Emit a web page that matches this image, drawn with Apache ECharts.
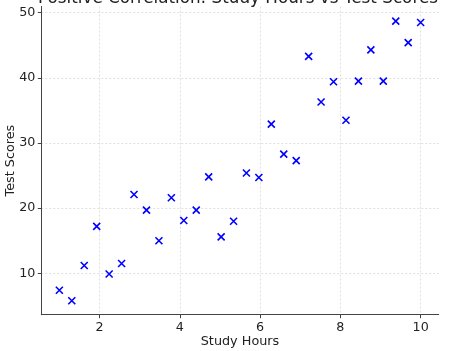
<!DOCTYPE html>
<html>
<head>
<meta charset="utf-8">
<script src="https://cdn.jsdelivr.net/npm/echarts@6/dist/echarts.min.js"></script>
<style>html,body{margin:0;padding:0;background:#fff}#chart{width:449px;height:351px}</style>
</head>
<body>
<div id="chart"></div>
<script>
// study hours (evenly spaced 1..10, 30 points) and scores
var studyHours = [1.00, 1.31, 1.62, 1.93, 2.24, 2.55, 2.86, 3.17, 3.48, 3.79,
                  4.10, 4.41, 4.72, 5.03, 5.34, 5.66, 5.97, 6.28, 6.59, 6.90,
                  7.21, 7.52, 7.83, 8.14, 8.45, 8.76, 9.07, 9.38, 9.69, 10.00];
var testScores = [7.4, 5.8, 11.2, 17.2, 9.9, 11.5, 22.1, 19.7, 15.0, 21.6,
                  18.1, 19.7, 24.8, 15.6, 18.0, 25.4, 24.7, 32.9, 28.3, 27.3,
                  43.3, 36.3, 39.4, 33.5, 39.5, 44.3, 39.5, 48.7, 45.4, 48.5];
var xTicks = [2, 4, 6, 8, 10];
var yTicks = [10, 20, 30, 40, 50];

var points = studyHours.map(function(h, i){ return [h, testScores[i]]; });

var font = 'DejaVu Sans';
var chart = echarts.init(document.getElementById('chart'));
chart.setOption({
  animation: false,
  // title drawn as plain graphic text so it can sit partly above the canvas like the original
  graphic: [{
    type: 'text', x: 238, y: -1.5,
    style: {
      text: 'Positive Correlation: Study Hours vs Test Scores',
      fontFamily: font, fontSize: 16.8, fill: '#222',
      textAlign: 'center', textVerticalAlign: 'middle'
    }
  }],
  grid: { left: 41.3, right: 10.3, top: 6.5, bottom: 36.3, outerBoundsMode: 'none', containLabel: false },
  xAxis: {
    type: 'value', min: 0.55, max: 10.45,
    name: 'Study Hours', nameLocation: 'middle', nameGap: 20, nameMoveOverlap: false,
    nameTextStyle: { fontFamily: font, fontSize: 12.8, color: '#222' },
    axisLine: { show: true, lineStyle: { color: '#444', width: 1 } },
    axisTick: { show: true, length: 3.5, customValues: xTicks, lineStyle: { color: '#444' } },
    axisLabel: { customValues: xTicks, fontFamily: font, fontSize: 12.7, color: '#222', margin: 6 },
    splitLine: { show: true, lineStyle: { color: '#d8d8d8', type: [2, 2], width: 0.8 } }
  },
  yAxis: {
    type: 'value', min: 3.65, max: 50.95,
    name: 'Test Scores', nameLocation: 'middle', nameGap: 24, nameMoveOverlap: false,
    nameTextStyle: { fontFamily: font, fontSize: 12.8, color: '#222' },
    axisLine: { show: true, lineStyle: { color: '#444', width: 1 } },
    axisTick: { show: true, length: 3.5, customValues: yTicks, lineStyle: { color: '#444' } },
    axisLabel: { customValues: yTicks, fontFamily: font, fontSize: 12.7, color: '#222', margin: 6 },
    splitLine: { show: true, lineStyle: { color: '#d8d8d8', type: [2, 2], width: 0.8 } }
  },
  series: [{
    type: 'scatter',
    data: points,
    symbol: 'path://M0,0 L10,10 M10,0 L0,10',
    symbolSize: 7,
    itemStyle: { color: 'none', borderColor: '#0000ff', borderWidth: 1.6, opacity: 1 }
  }]
});
</script>
</body>
</html>
